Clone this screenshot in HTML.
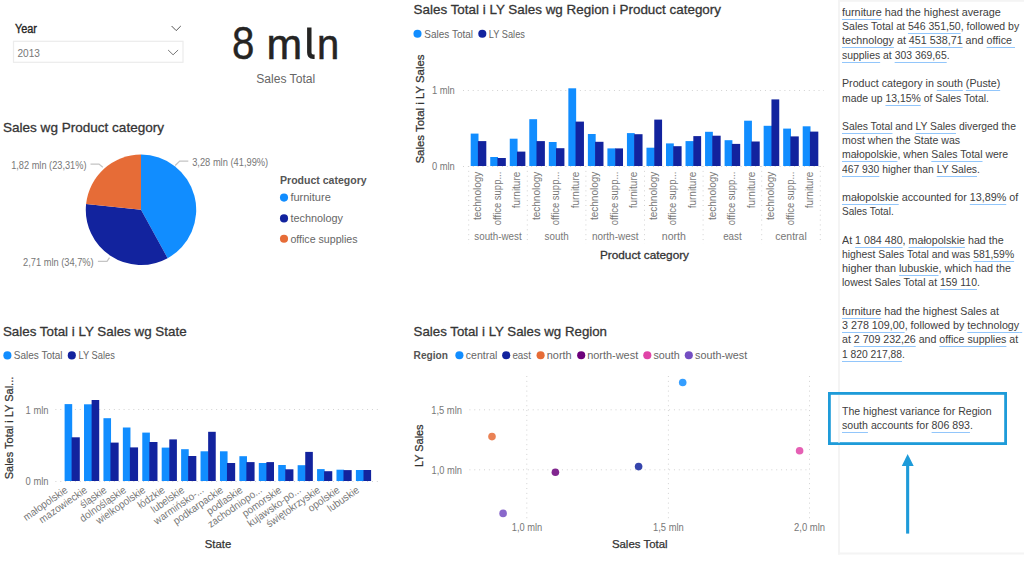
<!DOCTYPE html>
<html><head><meta charset="utf-8"><title>Report</title>
<style>
html,body{margin:0;padding:0;background:#fff;}
body{width:1024px;height:565px;position:relative;overflow:hidden;font-family:"Liberation Sans",sans-serif;}
svg{position:absolute;left:0;top:0;}
svg text{font-family:"Liberation Sans",sans-serif;}
.nl{position:absolute;left:842.3px;white-space:nowrap;font-size:10.5px;line-height:14px;height:14px;color:#404040;transform-origin:0 0;}
.nl u{text-decoration:underline;text-decoration-color:#92c6fb;text-decoration-thickness:1.25px;text-underline-offset:2.6px;text-decoration-skip-ink:none;}
</style></head>
<body>
<svg width="1024" height="565" viewBox="0 0 1024 565">
<text x="15.00" y="32.50" font-size="12" fill="#252423" textLength="22.00" lengthAdjust="spacingAndGlyphs" stroke="#252423" stroke-width="0.35">Year</text>
<path d="M171.6 26 L176.2 30.6 L180.8 26" stroke="#555" fill="none" stroke-width="1"/>
<rect x="13.50" y="41.30" width="169.50" height="21.00" fill="#fff" stroke="#ececec" stroke-width="1.2"/>
<text x="17.50" y="57.00" font-size="10.5" fill="#777" textLength="22.50" lengthAdjust="spacingAndGlyphs">2013</text>
<path d="M168.1 50 L173.1 54.8 L178.1 50" stroke="#777" fill="none" stroke-width="1"/>
<text x="231.90" y="58.90" font-size="47" fill="#252423" textLength="22.40" lengthAdjust="spacingAndGlyphs" stroke="#252423" stroke-width="0.4">8</text>
<text x="266.60" y="58.70" font-size="43" fill="#252423" textLength="35.70" lengthAdjust="spacingAndGlyphs" stroke="#252423" stroke-width="0.5">m</text>
<path d="M309.3 27.6 V52.6 Q309.3 56.8 313.2 56.8 H314.6" stroke="#252423" fill="none" stroke-width="4.4"/>
<text x="317.10" y="58.70" font-size="43" fill="#252423" textLength="22.20" lengthAdjust="spacingAndGlyphs" stroke="#252423" stroke-width="0.5">n</text>
<text x="256.20" y="83.00" font-size="12" fill="#666" textLength="59.00" lengthAdjust="spacingAndGlyphs">Sales Total</text>
<text x="3.00" y="131.70" font-size="13.6" fill="#353535" textLength="161.00" lengthAdjust="spacingAndGlyphs" stroke="#353535" stroke-width="0.3">Sales wg Product category</text>
<path d="M141 209.8 L141.00 154.60 A55.2 55.2 0 0 1 167.62 258.16 Z" stroke="none" fill="#118DFF" stroke-width="1"/>
<path d="M141 209.8 L167.62 258.16 A55.2 55.2 0 0 1 86.11 203.95 Z" stroke="none" fill="#12239E" stroke-width="1"/>
<path d="M141 209.8 L86.11 203.95 A55.2 55.2 0 0 1 141.00 154.60 Z" stroke="none" fill="#E66C37" stroke-width="1"/>
<path d="M90.5 164 L99 164 L102.8 167.3" stroke="#c4c4c4" fill="none" stroke-width="1.25"/>
<path d="M97.9 261.4 L107 261.4 L109.5 257.7" stroke="#c4c4c4" fill="none" stroke-width="1.25"/>
<path d="M175.2 165.5 L179.7 161 L188.3 161" stroke="#c4c4c4" fill="none" stroke-width="1.25"/>
<text x="11.20" y="168.50" font-size="10.5" fill="#777777" textLength="75.30" lengthAdjust="spacingAndGlyphs">1,82 mln (23,31%)</text>
<text x="23.00" y="266.40" font-size="10.5" fill="#777777" textLength="70.70" lengthAdjust="spacingAndGlyphs">2,71 mln (34,7%)</text>
<text x="192.20" y="165.50" font-size="10.5" fill="#777777" textLength="76.00" lengthAdjust="spacingAndGlyphs">3,28 mln (41,99%)</text>
<text x="280.00" y="184.30" font-size="11" fill="#555" font-weight="700" textLength="86.70" lengthAdjust="spacingAndGlyphs">Product category</text>
<circle cx="284.00" cy="197.60" r="4.05" fill="#118DFF"/>
<text x="290.40" y="201.40" font-size="10.5" fill="#666666" textLength="40.40" lengthAdjust="spacingAndGlyphs">furniture</text>
<circle cx="284.00" cy="218.40" r="4.05" fill="#12239E"/>
<text x="290.40" y="222.20" font-size="10.5" fill="#666666" textLength="52.60" lengthAdjust="spacingAndGlyphs">technology</text>
<circle cx="284.00" cy="238.70" r="4.05" fill="#E66C37"/>
<text x="290.40" y="242.50" font-size="10.5" fill="#666666" textLength="67.10" lengthAdjust="spacingAndGlyphs">office supplies</text>
<text x="413.60" y="14.40" font-size="13.6" fill="#353535" textLength="307.40" lengthAdjust="spacingAndGlyphs" stroke="#353535" stroke-width="0.3">Sales Total i LY Sales wg Region i Product category</text>
<circle cx="417.50" cy="33.70" r="4.05" fill="#118DFF"/>
<text x="424.30" y="37.60" font-size="10.5" fill="#666666" textLength="48.80" lengthAdjust="spacingAndGlyphs">Sales Total</text>
<circle cx="482.30" cy="33.70" r="4.05" fill="#12239E"/>
<text x="488.80" y="37.60" font-size="10.5" fill="#666666" textLength="36.10" lengthAdjust="spacingAndGlyphs">LY Sales</text>
<text x="423.70" y="109.00" font-size="11.5" fill="#333333" text-anchor="middle" textLength="109.00" lengthAdjust="spacingAndGlyphs" transform="rotate(-90 423.70 109.00)" stroke="#333333" stroke-width="0.25">Sales Total i LY Sales</text>
<text x="431.90" y="93.80" font-size="10.5" fill="#777777" textLength="22.90" lengthAdjust="spacingAndGlyphs">1 mln</text>
<text x="431.90" y="169.80" font-size="10.5" fill="#777777" textLength="22.90" lengthAdjust="spacingAndGlyphs">0 mln</text>
<line x1="463.00" y1="90.50" x2="824.00" y2="90.50" stroke="#d2d2d2" stroke-width="1" stroke-dasharray="1 3.87"/>
<line x1="463.00" y1="166.50" x2="824.00" y2="166.50" stroke="#d2d2d2" stroke-width="1" stroke-dasharray="1 3.87"/>
<rect x="470.70" y="133.60" width="7.80" height="32.40" fill="#118DFF"/>
<rect x="477.90" y="141.10" width="8.40" height="24.90" fill="#12239E"/>
<text x="481.20" y="171.70" font-size="10.5" fill="#777777" text-anchor="end" textLength="48.30" lengthAdjust="spacingAndGlyphs" transform="rotate(-90 481.20 171.70)">technology</text>
<rect x="490.23" y="157.00" width="7.80" height="9.00" fill="#118DFF"/>
<rect x="497.43" y="158.00" width="8.40" height="8.00" fill="#12239E"/>
<text x="500.73" y="171.70" font-size="10.5" fill="#777777" text-anchor="end" textLength="53.50" lengthAdjust="spacingAndGlyphs" transform="rotate(-90 500.73 171.70)">office supp...</text>
<rect x="509.76" y="138.70" width="7.80" height="27.30" fill="#118DFF"/>
<rect x="516.96" y="151.60" width="8.40" height="14.40" fill="#12239E"/>
<text x="520.26" y="171.70" font-size="10.5" fill="#777777" text-anchor="end" textLength="36.60" lengthAdjust="spacingAndGlyphs" transform="rotate(-90 520.26 171.70)">furniture</text>
<rect x="529.29" y="119.20" width="7.80" height="46.80" fill="#118DFF"/>
<rect x="536.49" y="141.10" width="8.40" height="24.90" fill="#12239E"/>
<text x="539.79" y="171.70" font-size="10.5" fill="#777777" text-anchor="end" textLength="48.30" lengthAdjust="spacingAndGlyphs" transform="rotate(-90 539.79 171.70)">technology</text>
<rect x="548.82" y="142.00" width="7.80" height="24.00" fill="#118DFF"/>
<rect x="556.02" y="148.20" width="8.40" height="17.80" fill="#12239E"/>
<text x="559.32" y="171.70" font-size="10.5" fill="#777777" text-anchor="end" textLength="53.50" lengthAdjust="spacingAndGlyphs" transform="rotate(-90 559.32 171.70)">office supp...</text>
<rect x="568.35" y="88.30" width="7.80" height="77.70" fill="#118DFF"/>
<rect x="575.55" y="121.60" width="8.40" height="44.40" fill="#12239E"/>
<text x="578.85" y="171.70" font-size="10.5" fill="#777777" text-anchor="end" textLength="36.60" lengthAdjust="spacingAndGlyphs" transform="rotate(-90 578.85 171.70)">furniture</text>
<rect x="587.88" y="134.00" width="7.80" height="32.00" fill="#118DFF"/>
<rect x="595.08" y="141.80" width="8.40" height="24.20" fill="#12239E"/>
<text x="598.38" y="171.70" font-size="10.5" fill="#777777" text-anchor="end" textLength="48.30" lengthAdjust="spacingAndGlyphs" transform="rotate(-90 598.38 171.70)">technology</text>
<rect x="607.41" y="148.40" width="8.40" height="17.60" fill="#118DFF"/>
<rect x="615.21" y="148.40" width="7.80" height="17.60" fill="#12239E"/>
<text x="617.91" y="171.70" font-size="10.5" fill="#777777" text-anchor="end" textLength="53.50" lengthAdjust="spacingAndGlyphs" transform="rotate(-90 617.91 171.70)">office supp...</text>
<rect x="626.94" y="133.10" width="7.80" height="32.90" fill="#118DFF"/>
<rect x="634.14" y="134.20" width="8.40" height="31.80" fill="#12239E"/>
<text x="637.44" y="171.70" font-size="10.5" fill="#777777" text-anchor="end" textLength="36.60" lengthAdjust="spacingAndGlyphs" transform="rotate(-90 637.44 171.70)">furniture</text>
<rect x="646.47" y="147.70" width="8.40" height="18.30" fill="#118DFF"/>
<rect x="654.27" y="119.60" width="7.80" height="46.40" fill="#12239E"/>
<text x="656.97" y="171.70" font-size="10.5" fill="#777777" text-anchor="end" textLength="48.30" lengthAdjust="spacingAndGlyphs" transform="rotate(-90 656.97 171.70)">technology</text>
<rect x="666.00" y="143.40" width="7.80" height="22.60" fill="#118DFF"/>
<rect x="673.20" y="146.20" width="8.40" height="19.80" fill="#12239E"/>
<text x="676.50" y="171.70" font-size="10.5" fill="#777777" text-anchor="end" textLength="53.50" lengthAdjust="spacingAndGlyphs" transform="rotate(-90 676.50 171.70)">office supp...</text>
<rect x="685.53" y="141.10" width="8.40" height="24.90" fill="#118DFF"/>
<rect x="693.33" y="136.10" width="7.80" height="29.90" fill="#12239E"/>
<text x="696.03" y="171.70" font-size="10.5" fill="#777777" text-anchor="end" textLength="36.60" lengthAdjust="spacingAndGlyphs" transform="rotate(-90 696.03 171.70)">furniture</text>
<rect x="705.06" y="131.80" width="7.80" height="34.20" fill="#118DFF"/>
<rect x="712.26" y="135.70" width="8.40" height="30.30" fill="#12239E"/>
<text x="715.56" y="171.70" font-size="10.5" fill="#777777" text-anchor="end" textLength="48.30" lengthAdjust="spacingAndGlyphs" transform="rotate(-90 715.56 171.70)">technology</text>
<rect x="724.59" y="140.20" width="7.80" height="25.80" fill="#118DFF"/>
<rect x="731.79" y="143.90" width="8.40" height="22.10" fill="#12239E"/>
<text x="735.09" y="171.70" font-size="10.5" fill="#777777" text-anchor="end" textLength="53.50" lengthAdjust="spacingAndGlyphs" transform="rotate(-90 735.09 171.70)">office supp...</text>
<rect x="744.12" y="120.70" width="7.80" height="45.30" fill="#118DFF"/>
<rect x="751.32" y="141.50" width="8.40" height="24.50" fill="#12239E"/>
<text x="754.62" y="171.70" font-size="10.5" fill="#777777" text-anchor="end" textLength="36.60" lengthAdjust="spacingAndGlyphs" transform="rotate(-90 754.62 171.70)">furniture</text>
<rect x="763.65" y="125.80" width="8.40" height="40.20" fill="#118DFF"/>
<rect x="771.45" y="99.40" width="7.80" height="66.60" fill="#12239E"/>
<text x="774.15" y="171.70" font-size="10.5" fill="#777777" text-anchor="end" textLength="48.30" lengthAdjust="spacingAndGlyphs" transform="rotate(-90 774.15 171.70)">technology</text>
<rect x="783.18" y="128.60" width="7.80" height="37.40" fill="#118DFF"/>
<rect x="790.38" y="136.40" width="8.40" height="29.60" fill="#12239E"/>
<text x="793.68" y="171.70" font-size="10.5" fill="#777777" text-anchor="end" textLength="53.50" lengthAdjust="spacingAndGlyphs" transform="rotate(-90 793.68 171.70)">office supp...</text>
<rect x="802.71" y="126.30" width="7.80" height="39.70" fill="#118DFF"/>
<rect x="809.91" y="131.60" width="8.40" height="34.40" fill="#12239E"/>
<text x="813.21" y="171.70" font-size="10.5" fill="#777777" text-anchor="end" textLength="36.60" lengthAdjust="spacingAndGlyphs" transform="rotate(-90 813.21 171.70)">furniture</text>
<line x1="468.70" y1="166.00" x2="468.70" y2="244.00" stroke="#d2d2d2" stroke-width="1" stroke-dasharray="1 3.87"/>
<line x1="527.30" y1="166.00" x2="527.30" y2="244.00" stroke="#d2d2d2" stroke-width="1" stroke-dasharray="1 3.87"/>
<line x1="585.90" y1="166.00" x2="585.90" y2="244.00" stroke="#d2d2d2" stroke-width="1" stroke-dasharray="1 3.87"/>
<line x1="644.50" y1="166.00" x2="644.50" y2="244.00" stroke="#d2d2d2" stroke-width="1" stroke-dasharray="1 3.87"/>
<line x1="703.10" y1="166.00" x2="703.10" y2="244.00" stroke="#d2d2d2" stroke-width="1" stroke-dasharray="1 3.87"/>
<line x1="761.70" y1="166.00" x2="761.70" y2="244.00" stroke="#d2d2d2" stroke-width="1" stroke-dasharray="1 3.87"/>
<line x1="820.30" y1="166.00" x2="820.30" y2="244.00" stroke="#d2d2d2" stroke-width="1" stroke-dasharray="1 3.87"/>
<text x="498.00" y="239.80" font-size="10.5" fill="#777777" text-anchor="middle" textLength="47.30" lengthAdjust="spacingAndGlyphs">south-west</text>
<text x="556.60" y="239.80" font-size="10.5" fill="#777777" text-anchor="middle" textLength="24.00" lengthAdjust="spacingAndGlyphs">south</text>
<text x="615.20" y="239.80" font-size="10.5" fill="#777777" text-anchor="middle" textLength="46.50" lengthAdjust="spacingAndGlyphs">north-west</text>
<text x="673.80" y="239.80" font-size="10.5" fill="#777777" text-anchor="middle" textLength="24.00" lengthAdjust="spacingAndGlyphs">north</text>
<text x="732.40" y="239.80" font-size="10.5" fill="#777777" text-anchor="middle" textLength="18.50" lengthAdjust="spacingAndGlyphs">east</text>
<text x="791.00" y="239.80" font-size="10.5" fill="#777777" text-anchor="middle" textLength="31.50" lengthAdjust="spacingAndGlyphs">central</text>
<text x="644.50" y="258.80" font-size="11.6" fill="#333333" text-anchor="middle" textLength="89.00" lengthAdjust="spacingAndGlyphs" stroke="#333333" stroke-width="0.3">Product category</text>
<text x="2.90" y="336.00" font-size="13.6" fill="#353535" textLength="183.70" lengthAdjust="spacingAndGlyphs" stroke="#353535" stroke-width="0.3">Sales Total i LY Sales wg State</text>
<circle cx="7.40" cy="355.40" r="4.05" fill="#118DFF"/>
<text x="13.70" y="359.30" font-size="10.5" fill="#666666" textLength="48.90" lengthAdjust="spacingAndGlyphs">Sales Total</text>
<circle cx="71.80" cy="355.40" r="4.05" fill="#12239E"/>
<text x="78.50" y="359.30" font-size="10.5" fill="#666666" textLength="36.30" lengthAdjust="spacingAndGlyphs">LY Sales</text>
<text x="13.40" y="428.00" font-size="11.5" fill="#333333" text-anchor="middle" textLength="102.50" lengthAdjust="spacingAndGlyphs" transform="rotate(-90 13.40 428.00)" stroke="#333333" stroke-width="0.25">Sales Total i LY Sal...</text>
<text x="25.60" y="413.50" font-size="10.5" fill="#777777" textLength="23.00" lengthAdjust="spacingAndGlyphs">1 mln</text>
<text x="25.60" y="484.80" font-size="10.5" fill="#777777" textLength="23.00" lengthAdjust="spacingAndGlyphs">0 mln</text>
<line x1="55.40" y1="409.50" x2="378.30" y2="409.50" stroke="#d2d2d2" stroke-width="1" stroke-dasharray="1 3.87"/>
<line x1="55.40" y1="481.50" x2="378.30" y2="481.50" stroke="#d2d2d2" stroke-width="1" stroke-dasharray="1 3.87"/>
<rect x="64.60" y="404.10" width="7.60" height="76.90" fill="#118DFF"/>
<rect x="71.60" y="437.30" width="8.20" height="43.70" fill="#12239E"/>
<text x="68.60" y="491.50" font-size="10.5" fill="#777777" text-anchor="end" textLength="51.71" lengthAdjust="spacingAndGlyphs" transform="rotate(-35 68.60 491.50)">małopolskie</text>
<rect x="84.02" y="404.30" width="8.20" height="76.70" fill="#118DFF"/>
<rect x="91.62" y="400.00" width="7.60" height="81.00" fill="#12239E"/>
<text x="88.02" y="491.50" font-size="10.5" fill="#777777" text-anchor="end" textLength="56.07" lengthAdjust="spacingAndGlyphs" transform="rotate(-35 88.02 491.50)">mazowieckie</text>
<rect x="103.44" y="418.20" width="7.60" height="62.80" fill="#118DFF"/>
<rect x="110.44" y="442.60" width="8.20" height="38.40" fill="#12239E"/>
<text x="107.44" y="491.50" font-size="10.5" fill="#777777" text-anchor="end" textLength="29.90" lengthAdjust="spacingAndGlyphs" transform="rotate(-35 107.44 491.50)">śląskie</text>
<rect x="122.86" y="427.50" width="7.60" height="53.50" fill="#118DFF"/>
<rect x="129.86" y="447.40" width="8.20" height="33.60" fill="#12239E"/>
<text x="126.86" y="491.50" font-size="10.5" fill="#777777" text-anchor="end" textLength="53.84" lengthAdjust="spacingAndGlyphs" transform="rotate(-35 126.86 491.50)">dolnośląskie</text>
<rect x="142.28" y="432.60" width="7.60" height="48.40" fill="#118DFF"/>
<rect x="149.28" y="442.00" width="8.20" height="39.00" fill="#12239E"/>
<text x="146.28" y="491.50" font-size="10.5" fill="#777777" text-anchor="end" textLength="57.67" lengthAdjust="spacingAndGlyphs" transform="rotate(-35 146.28 491.50)">wielkopolskie</text>
<rect x="161.70" y="447.60" width="8.20" height="33.40" fill="#118DFF"/>
<rect x="169.30" y="439.40" width="7.60" height="41.60" fill="#12239E"/>
<text x="165.70" y="491.50" font-size="10.5" fill="#777777" text-anchor="end" textLength="30.44" lengthAdjust="spacingAndGlyphs" transform="rotate(-35 165.70 491.50)">łódzkie</text>
<rect x="181.12" y="449.20" width="7.60" height="31.80" fill="#118DFF"/>
<rect x="188.12" y="456.00" width="8.20" height="25.00" fill="#12239E"/>
<text x="185.12" y="491.50" font-size="10.5" fill="#777777" text-anchor="end" textLength="38.09" lengthAdjust="spacingAndGlyphs" transform="rotate(-35 185.12 491.50)">lubelskie</text>
<rect x="200.54" y="451.30" width="8.20" height="29.70" fill="#118DFF"/>
<rect x="208.14" y="431.80" width="7.60" height="49.20" fill="#12239E"/>
<text x="204.54" y="491.50" font-size="10.5" fill="#777777" text-anchor="end" textLength="58.21" lengthAdjust="spacingAndGlyphs" transform="rotate(-35 204.54 491.50)">warmińsko-...</text>
<rect x="219.96" y="451.30" width="7.60" height="29.70" fill="#118DFF"/>
<rect x="226.96" y="463.00" width="8.20" height="18.00" fill="#12239E"/>
<text x="223.96" y="491.50" font-size="10.5" fill="#777777" text-anchor="end" textLength="58.21" lengthAdjust="spacingAndGlyphs" transform="rotate(-35 223.96 491.50)">podkarpackie</text>
<rect x="239.38" y="456.20" width="7.60" height="24.80" fill="#118DFF"/>
<rect x="246.38" y="462.10" width="8.20" height="18.90" fill="#12239E"/>
<text x="243.38" y="491.50" font-size="10.5" fill="#777777" text-anchor="end" textLength="41.38" lengthAdjust="spacingAndGlyphs" transform="rotate(-35 243.38 491.50)">podlaskie</text>
<rect x="258.80" y="463.00" width="8.20" height="18.00" fill="#118DFF"/>
<rect x="266.40" y="462.10" width="7.60" height="18.90" fill="#12239E"/>
<text x="262.80" y="491.50" font-size="10.5" fill="#777777" text-anchor="end" textLength="63.63" lengthAdjust="spacingAndGlyphs" transform="rotate(-35 262.80 491.50)">zachodniopo...</text>
<rect x="278.22" y="465.00" width="7.60" height="16.00" fill="#118DFF"/>
<rect x="285.22" y="469.30" width="8.20" height="11.70" fill="#12239E"/>
<text x="282.22" y="491.50" font-size="10.5" fill="#777777" text-anchor="end" textLength="45.12" lengthAdjust="spacingAndGlyphs" transform="rotate(-35 282.22 491.50)">pomorskie</text>
<rect x="297.64" y="465.20" width="8.20" height="15.80" fill="#118DFF"/>
<rect x="305.24" y="451.90" width="7.60" height="29.10" fill="#12239E"/>
<text x="301.64" y="491.50" font-size="10.5" fill="#777777" text-anchor="end" textLength="62.57" lengthAdjust="spacingAndGlyphs" transform="rotate(-35 301.64 491.50)">kujawsko-po...</text>
<rect x="317.06" y="469.10" width="7.60" height="11.90" fill="#118DFF"/>
<rect x="324.06" y="471.20" width="8.20" height="9.80" fill="#12239E"/>
<text x="321.06" y="491.50" font-size="10.5" fill="#777777" text-anchor="end" textLength="63.10" lengthAdjust="spacingAndGlyphs" transform="rotate(-35 321.06 491.50)">świętokrzyskie</text>
<rect x="336.48" y="469.70" width="7.60" height="11.30" fill="#118DFF"/>
<rect x="343.48" y="470.10" width="8.20" height="10.90" fill="#12239E"/>
<text x="340.48" y="491.50" font-size="10.5" fill="#777777" text-anchor="end" textLength="35.96" lengthAdjust="spacingAndGlyphs" transform="rotate(-35 340.48 491.50)">opolskie</text>
<rect x="355.90" y="470.00" width="8.20" height="11.00" fill="#118DFF"/>
<rect x="363.50" y="470.00" width="7.60" height="11.00" fill="#12239E"/>
<text x="359.90" y="491.50" font-size="10.5" fill="#777777" text-anchor="end" textLength="35.96" lengthAdjust="spacingAndGlyphs" transform="rotate(-35 359.90 491.50)">lubuskie</text>
<text x="218.00" y="548.00" font-size="11.5" fill="#333333" text-anchor="middle" textLength="26.40" lengthAdjust="spacingAndGlyphs" stroke="#333333" stroke-width="0.25">State</text>
<text x="413.60" y="336.00" font-size="13.6" fill="#353535" textLength="193.40" lengthAdjust="spacingAndGlyphs" stroke="#353535" stroke-width="0.3">Sales Total i LY Sales wg Region</text>
<text x="413.60" y="359.00" font-size="11" fill="#555" font-weight="700" textLength="34.40" lengthAdjust="spacingAndGlyphs">Region</text>
<circle cx="459.40" cy="355.30" r="4.05" fill="#118DFF"/>
<text x="465.80" y="359.10" font-size="10.5" fill="#666666" textLength="31.60" lengthAdjust="spacingAndGlyphs">central</text>
<circle cx="506.20" cy="355.30" r="4.05" fill="#12239E"/>
<text x="512.40" y="359.10" font-size="10.5" fill="#666666" textLength="18.50" lengthAdjust="spacingAndGlyphs">east</text>
<circle cx="540.60" cy="355.30" r="4.05" fill="#E66C37"/>
<text x="546.80" y="359.10" font-size="10.5" fill="#666666" textLength="24.90" lengthAdjust="spacingAndGlyphs">north</text>
<circle cx="581.20" cy="355.30" r="4.05" fill="#6B007B"/>
<text x="587.20" y="359.10" font-size="10.5" fill="#666666" textLength="51.00" lengthAdjust="spacingAndGlyphs">north-west</text>
<circle cx="647.30" cy="355.30" r="4.05" fill="#E044A7"/>
<text x="653.40" y="359.10" font-size="10.5" fill="#666666" textLength="26.30" lengthAdjust="spacingAndGlyphs">south</text>
<circle cx="688.80" cy="355.30" r="4.05" fill="#744EC2"/>
<text x="695.10" y="359.10" font-size="10.5" fill="#666666" textLength="52.10" lengthAdjust="spacingAndGlyphs">south-west</text>
<line x1="526.80" y1="376.00" x2="526.80" y2="519.00" stroke="#d2d2d2" stroke-width="1" stroke-dasharray="1 3.87"/>
<line x1="668.40" y1="376.00" x2="668.40" y2="519.00" stroke="#d2d2d2" stroke-width="1" stroke-dasharray="1 3.87"/>
<line x1="809.50" y1="376.00" x2="809.50" y2="519.00" stroke="#d2d2d2" stroke-width="1" stroke-dasharray="1 3.87"/>
<line x1="469.40" y1="409.80" x2="809.50" y2="409.80" stroke="#d2d2d2" stroke-width="1" stroke-dasharray="1 3.87"/>
<line x1="469.40" y1="469.80" x2="809.50" y2="469.80" stroke="#d2d2d2" stroke-width="1" stroke-dasharray="1 3.87"/>
<text x="431.20" y="413.60" font-size="10.5" fill="#777777" textLength="30.80" lengthAdjust="spacingAndGlyphs">1,5 mln</text>
<text x="431.50" y="473.80" font-size="10.5" fill="#777777" textLength="30.50" lengthAdjust="spacingAndGlyphs">1,0 mln</text>
<text x="527.00" y="530.80" font-size="10.5" fill="#777777" text-anchor="middle" textLength="30.50" lengthAdjust="spacingAndGlyphs">1,0 mln</text>
<text x="668.40" y="530.80" font-size="10.5" fill="#777777" text-anchor="middle" textLength="30.70" lengthAdjust="spacingAndGlyphs">1,5 mln</text>
<text x="809.50" y="530.80" font-size="10.5" fill="#777777" text-anchor="middle" textLength="31.00" lengthAdjust="spacingAndGlyphs">2,0 mln</text>
<text x="423.40" y="445.70" font-size="11.5" fill="#333333" text-anchor="middle" textLength="42.50" lengthAdjust="spacingAndGlyphs" transform="rotate(-90 423.40 445.70)" stroke="#333333" stroke-width="0.25">LY Sales</text>
<text x="611.90" y="548.00" font-size="11.5" fill="#333333" textLength="55.70" lengthAdjust="spacingAndGlyphs" stroke="#333333" stroke-width="0.25">Sales Total</text>
<circle cx="682.70" cy="382.50" r="3.8" fill="#118DFF" fill-opacity="0.85"/>
<circle cx="638.60" cy="466.60" r="3.8" fill="#12239E" fill-opacity="0.85"/>
<circle cx="492.00" cy="436.60" r="3.8" fill="#E66C37" fill-opacity="0.85"/>
<circle cx="555.40" cy="472.30" r="3.8" fill="#6B007B" fill-opacity="0.85"/>
<circle cx="799.60" cy="450.70" r="3.8" fill="#E044A7" fill-opacity="0.85"/>
<circle cx="503.10" cy="513.40" r="3.8" fill="#744EC2" fill-opacity="0.85"/>
<path d="M839 554.5 L839 0.75 L1024 0.75" stroke="#f4f4f4" fill="none" stroke-width="2"/>
<path d="M838 553.5 L1024 553.5" stroke="#f4f4f4" fill="none" stroke-width="2"/>
<rect x="829.4" y="393.4" width="176.2" height="50.2" fill="#fff" stroke="#1E9BD9" stroke-width="2.8"/>
<path d="M839 395 L839 442.5" stroke="#f4f4f4" fill="none" stroke-width="2"/>
<rect x="906.10" y="465.00" width="3.10" height="68.60" fill="#1E9BD9"/>
<path d="M907.65 453.9 L913.7 466 L901.8 466 Z" stroke="none" fill="#1E9BD9" stroke-width="1"/>
</svg>
<div class="nl" id="nl1" style="top:5.00px;transform:scaleX(1.0303)"><span class="m"><u>furniture</u> had the highest average</span></div>
<div class="nl" id="nl2" style="top:19.00px;transform:scaleX(1.0028)"><span class="m">Sales Total at <u>546 351,50</u>, followed by</span></div>
<div class="nl" id="nl3" style="top:33.00px;transform:scaleX(1.0227)"><span class="m"><u>technology</u> at <u>451 538,71</u> and <u>office</u></span><u>&nbsp;</u></div>
<div class="nl" id="nl4" style="top:48.00px;transform:scaleX(0.9907)"><span class="m"><u>supplies</u> at <u>303 369,65</u>.</span></div>
<div class="nl" id="nl6" style="top:76.00px;transform:scaleX(1.0151)"><span class="m">Product category in <u>south</u> <u>(Puste)</u></span></div>
<div class="nl" id="nl7" style="top:91.00px;transform:scaleX(0.9919)"><span class="m">made up <u>13,15%</u> of Sales Total.</span></div>
<div class="nl" id="nl9" style="top:119.00px;transform:scaleX(0.9862)"><span class="m"><u>Sales Total</u> and <u>LY Sales</u> diverged the</span></div>
<div class="nl" id="nl10" style="top:133.00px;transform:scaleX(1.0067)"><span class="m">most when the State was</span></div>
<div class="nl" id="nl11" style="top:147.00px;transform:scaleX(1.0001)"><span class="m"><u>małopolskie</u>, when <u>Sales Total</u> were</span></div>
<div class="nl" id="nl12" style="top:162.00px;transform:scaleX(0.9826)"><span class="m"><u>467 930</u> higher than <u>LY Sales</u>.</span></div>
<div class="nl" id="nl14" style="top:190.00px;transform:scaleX(1.0230)"><span class="m"><u>małopolskie</u> accounted for <u>13,89%</u> of</span></div>
<div class="nl" id="nl15" style="top:204.00px;transform:scaleX(0.9557)"><span class="m">Sales Total.</span></div>
<div class="nl" id="nl17" style="top:233.00px;transform:scaleX(1.0176)"><span class="m">At <u>1 084 480</u>, <u>małopolskie</u> had the</span></div>
<div class="nl" id="nl18" style="top:247.00px;transform:scaleX(0.9871)"><span class="m">highest Sales Total and was <u>581,59%</u></span></div>
<div class="nl" id="nl19" style="top:261.00px;transform:scaleX(1.0265)"><span class="m">higher than <u>lubuskie</u>, which had the</span></div>
<div class="nl" id="nl20" style="top:275.00px;transform:scaleX(0.9952)"><span class="m">lowest Sales Total at <u>159 110</u>.</span></div>
<div class="nl" id="nl22" style="top:304.00px;transform:scaleX(1.0180)"><span class="m"><u>furniture</u> had the highest Sales at</span></div>
<div class="nl" id="nl23" style="top:318.00px;transform:scaleX(1.0219)"><span class="m"><u>3 278 109,00</u>, followed by <u>technology</u></span><u>&nbsp;</u></div>
<div class="nl" id="nl24" style="top:332.00px;transform:scaleX(1.0103)"><span class="m">at <u>2 709 232,26</u> and <u>office supplies</u> at</span></div>
<div class="nl" id="nl25" style="top:347.00px;transform:scaleX(0.9792)"><span class="m"><u>1 820 217,88</u>.</span></div>
<div class="nl" id="nl29" style="top:404.00px;transform:scaleX(1.0051)"><span class="m">The highest variance for Region</span></div>
<div class="nl" id="nl30" style="top:418.00px;transform:scaleX(1.0100)"><span class="m"><u>south</u> accounts for <u>806 893</u>.</span></div>
</body></html>
